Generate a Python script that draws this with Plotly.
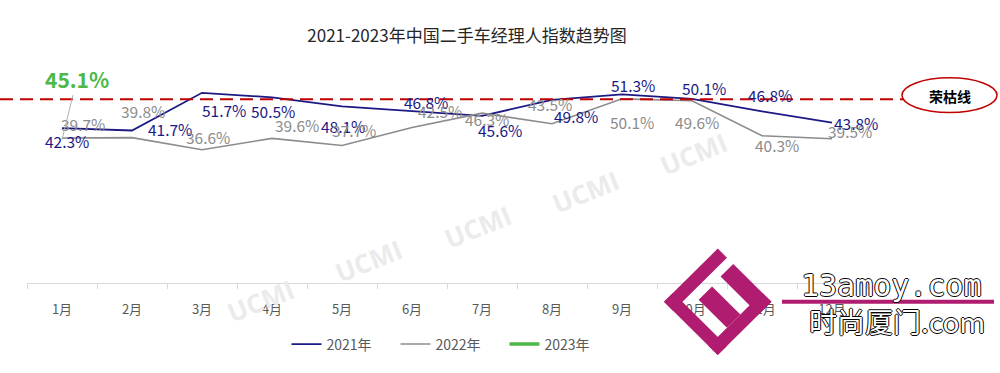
import math
import plotly.graph_objects as go

# ---------------- data ----------------
months = ['1月', '2月', '3月', '4月', '5月', '6月', '7月', '8月', '9月', '10月', '11月', '12月']
v2021 = [42.3, 41.7, 51.7, 50.5, 48.1, 46.8, 45.6, 49.8, 51.3, 50.1, 46.8, 43.8]
v2022 = [39.7, 39.8, 36.6, 39.6, 37.7, 42.5, 46.3, 43.5, 50.1, 49.6, 40.3, 39.5]
months_2023 = ['1月']
v2023 = [45.1]
series_names = ['2021年', '2022年', '2023年']
threshold = 50
threshold_label = '荣枯线'
title_text = '2021-2023年中国二手车经理人指数趋势图'
watermark = 'UCMI'
logo_texts = ['13amoy.com', '时尚厦门.com']

# ---------------- layout constants ----------------
W, H = 1000, 373
ML, MR, MT, MB = 27, 133, 61, 88
PW, PH = W - ML - MR, H - MT - MB
FONT = 'Noto Sans CJK SC, Noto Sans, sans-serif'
C21, C22, C23 = '#1b1a85', '#8c8c8c', '#4cb848'
RED = '#c00000'
MAG = '#b01c6f'


def px2x(px):
    return (px - ML) / PW


def py2y(py):
    return (H - MB - py) / PH


# label pixel offsets (dx right, dy up)
off2021 = [(5, -13), (38, 1), (22, -17), (1, -14), (1, -20), (14, 9), (18, -14),
           (24, -16), (11, 9), (12, 11), (8, 16), (24, 0)]
off2022 = [(21, 14), (11, 27), (6, 13), (25, 13), (12, 16), (28, 16), (5, -6),
           (-2, 20), (10, -23), (5, -21), (15, -9), (18, 8)]

fig = go.Figure()
fig.add_trace(go.Scatter(x=months, y=v2021, name=series_names[0], mode='lines',
                         line=dict(color=C21, width=1.8)))
fig.add_trace(go.Scatter(x=months, y=v2022, name=series_names[1], mode='lines',
                         line=dict(color=C22, width=1.6)))
fig.add_trace(go.Scatter(x=months_2023, y=v2023, name=series_names[2], mode='lines',
                         line=dict(color=C23, width=3.5)))

annotations = []


def paper_text(px, py, text, font, **kw):
    d = dict(x=px2x(px), y=py2y(py), xref='paper', yref='paper', text=text,
             showarrow=False, xanchor='center', yanchor='middle', font=font)
    d.update(kw)
    return d


# watermarks
for (wx, wy) in [(260, 303), (368, 263), (477, 228), (585, 193), (693, 155)]:
    annotations.append(paper_text(wx, wy, f'<b>{watermark}</b>',
                                  dict(family='Open Sans, sans-serif', size=26, color='#ebebeb'),
                                  textangle=-22))

for m, v, (dx, dy) in zip(months, v2021, off2021):
    annotations.append(dict(x=m, y=v, xref='x', yref='y', text=f'{v:.1f}%', showarrow=False,
                            xanchor='center', yanchor='middle',
                            xshift=dx, yshift=dy, font=dict(family=FONT, size=15.5, color=C21)))
for m, v, (dx, dy) in zip(months, v2022, off2022):
    annotations.append(dict(x=m, y=v, xref='x', yref='y', text=f'{v:.1f}%', showarrow=False,
                            xanchor='center', yanchor='middle',
                            xshift=dx, yshift=dy, font=dict(family=FONT, size=15.5, color=C22)))
for m, v in zip(months_2023, v2023):
    annotations.append(dict(x=m, y=v, xref='x', yref='y', text=f'<b>{v:.1f}%</b>', showarrow=True,
                            arrowhead=0, arrowwidth=1, arrowcolor='#b0b0b0', ax=15, ay=-61,
                            yshift=-22, font=dict(family=FONT, size=21, color=C23)))

# threshold label
annotations.append(paper_text(950, 96, f'<b>{threshold_label}</b>',
                              dict(family=FONT, size=14, color='#000000')))

# logo texts
outline = '1px 0 0 #000, -1px 0 0 #000, 0 1px 0 #000, 0 -1px 0 #000'
annotations.append(paper_text(892, 288, logo_texts[0],
                              dict(family='DejaVu Sans Mono', size=30, color='#ffffff',
                                   shadow=outline)))
annotations.append(paper_text(897, 323, logo_texts[1],
                              dict(family='Noto Sans CJK SC', size=28, color='#ffffff',
                                   shadow=outline)))

shapes = []
shapes.append(dict(type='line', xref='paper', yref='y', x0=px2x(0), x1=px2x(903),
                   y0=threshold, y1=threshold, line=dict(color=RED, width=2, dash='13px,7px')))
shapes.append(dict(type='circle', xref='paper', yref='paper', x0=px2x(902), x1=px2x(997),
                   y0=py2y(113), y1=py2y(78), line=dict(color=RED, width=1.5)))

# logo (rotated square pieces)
LX, LY = 664, 304
r2 = math.sqrt(2)


def lp(p, q):
    return px2x(LX + (p + q) / r2), py2y(LY + (q - p) / r2)


def rect_path(p0, p1, q0, q1):
    pts = [lp(p0, q0), lp(p1, q0), lp(p1, q1), lp(p0, q1)]
    return 'M ' + ' L '.join(f'{a:.5f} {b:.5f}' for a, b in pts) + ' Z'


for (p0, p1, q0, q1) in [(0, 76, 0, 13), (0, 13, 0, 76), (0, 76, 63, 76),
                         (58, 76, 22, 76), (26, 45, 23, 63)]:
    shapes.append(dict(type='path', xref='paper', yref='paper', path=rect_path(p0, p1, q0, q1),
                       fillcolor=MAG, line=dict(width=0), layer='above'))
shapes.append(dict(type='line', xref='paper', yref='paper', x0=px2x(782), x1=px2x(994),
                   y0=py2y(304), y1=py2y(304), line=dict(color=MAG, width=4), layer='above'))

fig.update_layout(
    width=W, height=H,
    margin=dict(l=ML, r=MR, t=MT, b=MB),
    paper_bgcolor='white', plot_bgcolor='white',
    font=dict(family=FONT, color='#595959'),
    title=dict(text=title_text, x=0.467, xanchor='center', y=1 - 36 / H, yanchor='middle',
               font=dict(family=FONT, size=17, color='#262626')),
    showlegend=True,
    legend=dict(orientation='h', x=(450 - ML) / PW, xanchor='center', y=py2y(347), yanchor='middle',
                itemwidth=30, entrywidth=64, entrywidthmode='pixels',
                font=dict(family=FONT, size=14, color='#595959'), bgcolor='rgba(0,0,0,0)'),
    xaxis=dict(type='category', categoryorder='array', categoryarray=months,
               range=[-0.5, 11.5], showgrid=False, zeroline=False,
               showline=True, linecolor='#d9d9d9', linewidth=1,
               ticks='outside', tickson='boundaries', ticklen=5, tickcolor='#d9d9d9',
               ticklabelstandoff=14, tickfont=dict(family=FONT, size=13, color='#595959'),
               fixedrange=True),
    yaxis=dict(range=[1.2, 1.2 + PH / 3.8], visible=False, showgrid=False, zeroline=False,
               fixedrange=True),
    annotations=annotations,
    shapes=shapes,
)

fig.write_html('out.html')
